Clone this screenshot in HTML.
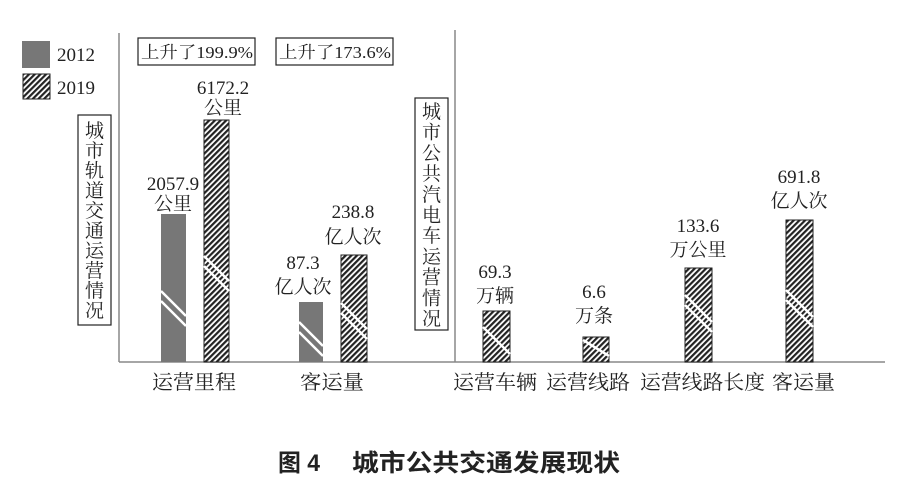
<!DOCTYPE html>
<html><head><meta charset="utf-8"><style>
html,body{margin:0;padding:0;background:#fff;}
svg{display:block;}
.s{font-family:"Liberation Serif","Noto Serif CJK SC",serif;fill:#222;}
</style></head><body>
<svg width="899" height="493" viewBox="0 0 899 493" xmlns="http://www.w3.org/2000/svg">
<defs>
<pattern id="h" patternUnits="userSpaceOnUse" width="4" height="4" patternTransform="rotate(45)">
<rect width="4" height="4" fill="#fff"/><rect width="2.2" height="4" fill="#222"/>
</pattern>
</defs>
<line x1="119" y1="33" x2="119" y2="362" stroke="#888" stroke-width="1.5"/>
<line x1="455" y1="30" x2="455" y2="362" stroke="#888" stroke-width="1.5"/>
<line x1="119" y1="362" x2="885" y2="362" stroke="#888" stroke-width="1.5"/>
<rect x="22" y="41" width="28" height="27" fill="#777"/>
<rect x="23" y="74" width="27" height="25" fill="url(#h)" stroke="#222" stroke-width="1"/>
<text class="s" x="57" y="61" font-size="19">2012</text>
<text class="s" x="57" y="94" font-size="19">2019</text>
<rect x="138" y="38" width="117" height="27" fill="none" stroke="#222" stroke-width="1.2"/>
<text class="s" x="141" y="58" font-size="17" textLength="112" lengthAdjust="spacingAndGlyphs">上升了199.9%</text>
<rect x="276" y="38" width="117" height="27" fill="none" stroke="#222" stroke-width="1.2"/>
<text class="s" x="279" y="58" font-size="17" textLength="112" lengthAdjust="spacingAndGlyphs">上升了173.6%</text>
<rect x="78" y="115" width="33" height="210" fill="none" stroke="#222" stroke-width="1.2"/>
<text class="s" font-size="19" text-anchor="middle">
<tspan x="94.5" y="137">城</tspan><tspan x="94.5" y="157">市</tspan><tspan x="94.5" y="177">轨</tspan><tspan x="94.5" y="197">道</tspan><tspan x="94.5" y="217">交</tspan><tspan x="94.5" y="237">通</tspan><tspan x="94.5" y="257">运</tspan><tspan x="94.5" y="277">营</tspan><tspan x="94.5" y="297">情</tspan><tspan x="94.5" y="317">况</tspan></text>
<rect x="415" y="98" width="33" height="232" fill="none" stroke="#222" stroke-width="1.2"/>
<text class="s" font-size="19" text-anchor="middle">
<tspan x="431.5" y="118">城</tspan><tspan x="431.5" y="138.7">市</tspan><tspan x="431.5" y="159.4">公</tspan><tspan x="431.5" y="180.1">共</tspan><tspan x="431.5" y="200.8">汽</tspan><tspan x="431.5" y="221.5">电</tspan><tspan x="431.5" y="242.2">车</tspan><tspan x="431.5" y="262.9">运</tspan><tspan x="431.5" y="283.6">营</tspan><tspan x="431.5" y="304.3">情</tspan><tspan x="431.5" y="325">况</tspan></text>
<g stroke="#222" stroke-width="1">
<rect x="161" y="214" width="25" height="148" fill="#777" stroke="none"/>
<rect x="204" y="120" width="25" height="242" fill="url(#h)"/>
<rect x="299" y="302" width="24" height="60" fill="#777" stroke="none"/>
<rect x="341" y="255" width="26" height="107" fill="url(#h)"/>
<rect x="483" y="311" width="27" height="51" fill="url(#h)"/>
<rect x="583" y="337" width="26" height="25" fill="url(#h)"/>
<rect x="685" y="268" width="27" height="94" fill="url(#h)"/>
<rect x="786" y="220" width="27" height="142" fill="url(#h)"/>
</g>
<g stroke="#fff" stroke-width="2.5">
<line x1="161" y1="291" x2="186" y2="316"/><line x1="161" y1="301" x2="186" y2="326"/>
<line x1="204" y1="256" x2="229" y2="281"/><line x1="204" y1="266" x2="229" y2="291"/>
<line x1="299" y1="322" x2="323" y2="346"/><line x1="299" y1="332" x2="323" y2="356"/>
<line x1="341" y1="303" x2="367" y2="329"/><line x1="341" y1="313" x2="367" y2="339"/>
<line x1="483" y1="327" x2="510" y2="354"/>
<line x1="583" y1="340" x2="609" y2="356"/>
<line x1="685" y1="295" x2="712" y2="322"/><line x1="685" y1="305" x2="712" y2="332"/>
<line x1="786" y1="290" x2="813" y2="317"/><line x1="786" y1="300" x2="813" y2="327"/>
</g>
<g class="s" font-size="19" text-anchor="middle">
<text x="173" y="190">2057.9</text><text x="173" y="210">公里</text>
<text x="223" y="94">6172.2</text><text x="223" y="114">公里</text>
<text x="303" y="269">87.3</text><text x="303" y="293">亿人次</text>
<text x="353" y="218">238.8</text><text x="353" y="243">亿人次</text>
<text x="495" y="278">69.3</text><text x="495" y="302">万辆</text>
<text x="594" y="298">6.6</text><text x="594" y="322">万条</text>
<text x="698" y="232">133.6</text><text x="698" y="256">万公里</text>
<text x="799" y="183">691.8</text><text x="799" y="207">亿人次</text>
</g>
<g class="s" font-size="20">
<text x="152" y="389" textLength="84" lengthAdjust="spacingAndGlyphs">运营里程</text>
<text x="300" y="389" textLength="64" lengthAdjust="spacingAndGlyphs">客运量</text>
<text x="453" y="389" textLength="84" lengthAdjust="spacingAndGlyphs">运营车辆</text>
<text x="546" y="389" textLength="84" lengthAdjust="spacingAndGlyphs">运营线路</text>
<text x="640" y="389" textLength="125" lengthAdjust="spacingAndGlyphs">运营线路长度</text>
<text x="772" y="389" textLength="63" lengthAdjust="spacingAndGlyphs">客运量</text>
</g>
<text x="278" y="471" font-size="24" font-weight="bold" font-family="'Liberation Sans','Noto Sans CJK SC',sans-serif" fill="#222" textLength="42" lengthAdjust="spacingAndGlyphs">图 4</text>
<text x="352" y="471" font-size="24" font-weight="bold" font-family="'Liberation Sans','Noto Sans CJK SC',sans-serif" fill="#222" textLength="268" lengthAdjust="spacingAndGlyphs">城市公共交通发展现状</text>
</svg>
</body></html>
